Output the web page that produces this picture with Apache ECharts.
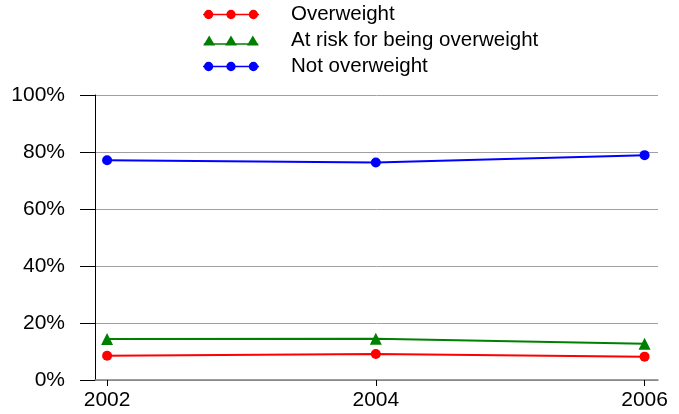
<!DOCTYPE html>
<html>
<head>
<meta charset="utf-8">
<script src="https://cdn.jsdelivr.net/npm/echarts@6/dist/echarts.min.js"></script>
<style>
  html, body { margin: 0; padding: 0; background: #fff; }
  #chart-container { width: 679px; height: 414px; }
</style>
</head>
<body>
<div id="chart-container"></div>
<script>
var years = [2002, 2004, 2006];
var seriesNames = ['Overweight', 'At risk for being overweight', 'Not overweight'];
var seriesColors = ['#ff0000', '#008000', '#0000ff'];
var overweight = [8.5, 9.1, 8.2];
var atRisk = [14.4, 14.5, 12.7];
var notOverweight = [77.1, 76.3, 78.9];

var dom = document.getElementById('chart-container');
var myChart = echarts.init(dom, null, { renderer: 'canvas' });

function pairs(vals) {
  return years.map(function (y, i) { return [y, vals[i]]; });
}

// legend icons: a line with three markers (segments kept apart from the markers)
var circleIcon = 'path://M0,5.2h2v1.6H0z M10,5.2h16v1.6H10z M34,5.2h16v1.6H34z M58,5.2h2v1.6H58z ' +
  'M1,6a5,5 0 1,1 10,0a5,5 0 1,1 -10,0z M25,6a5,5 0 1,1 10,0a5,5 0 1,1 -10,0z M49,6a5,5 0 1,1 10,0a5,5 0 1,1 -10,0z';
var triIcon = 'path://M0,9h60v1.6H0z M-0.5,11.5L6,0.5L12.5,11.5z M23.5,11.5L30,0.5L36.5,11.5z M47.5,11.5L54,0.5L60.5,11.5z';

var font = 'Liberation Sans, Arial, sans-serif';

var option = {
  animation: false,
  legend: {
    orient: 'vertical',
    left: 203,
    top: 4,
    padding: 0,
    itemWidth: 56,
    itemHeight: 10,
    itemGap: 5,
    textStyle: {
      fontFamily: font,
      fontSize: 20.5,
      color: '#000',
      lineHeight: 20,
      padding: [0, 0, 0, 27]
    },
    data: [
      { name: seriesNames[0], icon: circleIcon, itemStyle: { color: seriesColors[0], borderWidth: 0 } },
      { name: seriesNames[1], icon: triIcon, itemStyle: { color: seriesColors[1], borderWidth: 0 } },
      { name: seriesNames[2], icon: circleIcon, itemStyle: { color: seriesColors[2], borderWidth: 0 } }
    ]
  },
  grid: {
    left: 95,
    right: 21,
    top: 95,
    bottom: 34
  },
  xAxis: {
    type: 'value',
    min: 2001.91,
    max: 2006.1,
    axisLine: { show: true, lineStyle: { color: '#808080', width: 1.5 } },
    axisTick: {
      show: true,
      length: 6,
      customValues: years,
      lineStyle: { color: '#000' }
    },
    axisLabel: {
      customValues: years,
      margin: 10,
      fontFamily: font,
      fontSize: 21,
      color: '#000',
      formatter: function (v) { return String(v); }
    },
    splitLine: { show: false }
  },
  yAxis: {
    type: 'value',
    min: 0,
    max: 100,
    interval: 20,
    axisLine: { show: true, lineStyle: { color: '#000' } },
    axisTick: { show: true, length: 15, inside: false, lineStyle: { color: '#000' } },
    axisLabel: {
      margin: 30,
      fontFamily: font,
      fontSize: 21,
      color: '#000',
      formatter: '{value}%'
    },
    splitLine: { show: true, lineStyle: { color: '#a0a0a0', width: 1 } }
  },
  series: [
    {
      name: seriesNames[0],
      type: 'line',
      data: pairs(overweight),
      color: seriesColors[0],
      symbol: 'circle',
      symbolSize: 10,
      lineStyle: { width: 2 }
    },
    {
      name: seriesNames[1],
      type: 'line',
      data: pairs(atRisk),
      color: seriesColors[1],
      symbol: 'triangle',
      symbolSize: 12,
      lineStyle: { width: 2 }
    },
    {
      name: seriesNames[2],
      type: 'line',
      data: pairs(notOverweight),
      color: seriesColors[2],
      symbol: 'circle',
      symbolSize: 10,
      lineStyle: { width: 2 }
    }
  ]
};

myChart.setOption(option);
window.addEventListener('resize', myChart.resize);
</script>
</body>
</html>
